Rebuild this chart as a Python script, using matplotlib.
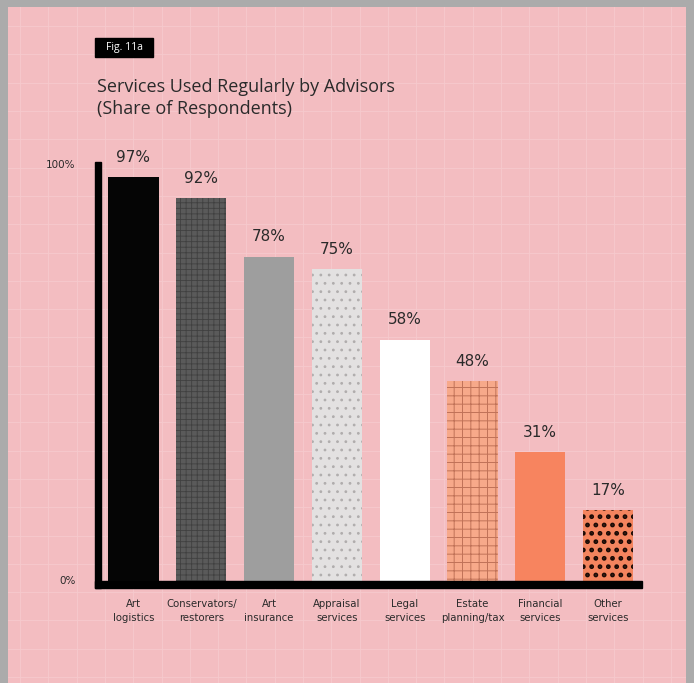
import numpy as np
import matplotlib
matplotlib.use("Agg")
from matplotlib import pyplot as plt
from matplotlib.patches import Rectangle

# data
categories = ["Art\nlogistics", "Conservators/\nrestorers", "Art\ninsurance", "Appraisal\nservices",
              "Legal\nservices", "Estate\nplanning/tax", "Financial\nservices", "Other\nservices"]
shares = [97, 92, 78, 75, 58, 48, 31, 17]
y_ticks = [0, 100]
y_tick_labels = ["0%", "100%"]

face = ["#050505", "#5a5a5a", "#9e9e9e", "#e3e1e1", "#ffffff", "#f7a98a", "#f7845f", "#f4845e"]
hatch = [None, "+++", None, "..", None, "++", None, ".."]
hcol = ["#050505", "#404040", "#9e9e9e", "#b0adad", "#ffffff", "#c07258", "#f7845f", "#1a0a05"]
hlw = [0.8, 0.6, 0.8, 0.8, 0.8, 0.7, 0.8, 2.2]

W, H = 694, 683
bg = "#f3bdc1"
fig = plt.figure(figsize=(W / 100, H / 100), dpi=100)
fig.patch.set_facecolor("#ababab")

# pink panel with faint grid
panel = fig.add_axes([8 / W, 0, (686 - 8) / W, (H - 7) / H])
panel.set_facecolor(bg)
panel.set_xlim(8, 686)
panel.set_ylim(0, H - 7)
for gx in np.arange(20, 686, 28.3):
    panel.axvline(gx, color="#f6cacd", lw=0.6, zorder=0)
for gy in np.arange(6, H - 7, 28.3):
    panel.axhline(gy, color="#f6cacd", lw=0.6, zorder=0)
panel.set_xticks([])
panel.set_yticks([])
for s in panel.spines.values():
    s.set_visible(False)

# bar axes, placed in pixels
x0, x1 = 95, 642
ybase, ytop = 581, 165
ax = fig.add_axes([x0 / W, (H - ybase) / H, (x1 - x0) / W, (ybase - ytop) / H])
ax.patch.set_alpha(0)
step = 67.8
c0 = 133.5
ax.set_xlim((x0 - c0) / step, (x1 - c0) / step)
ax.set_ylim(0, 100)

xs = np.arange(len(shares))
for i, v in enumerate(shares):
    with plt.rc_context({"hatch.linewidth": hlw[i]}):
        ax.bar(xs[i], v, width=0.74, color=face[i], edgecolor=hcol[i], linewidth=0,
               hatch=hatch[i], zorder=3)
    ax.text(xs[i], v + 3.0, "%d%%" % v, ha="center", va="bottom", fontsize=11,
            color="#2a2a2a", family="DejaVu Sans")

# thick axis lines
for s in ax.spines.values():
    s.set_visible(False)
ax.add_patch(Rectangle((-0.568, -1.6), 0.085, 102.3, color="black", clip_on=False, zorder=4))
ax.add_patch(Rectangle((-0.568, -1.6), 8.07, 1.5, color="black", clip_on=False, zorder=4))

ax.set_yticks(y_ticks)
ax.set_yticklabels(y_tick_labels, fontsize=7.5, family="DejaVu Sans", color="#2a2a2a")
ax.tick_params(axis="y", length=0, pad=14)
for lab in ax.get_yticklabels():
    lab.set_verticalalignment("center")
ax.set_xticks(xs)
ax.set_xticklabels(categories, fontsize=7.3, family="DejaVu Sans", color="#2a2a2a", linespacing=1.45)
ax.tick_params(axis="x", length=0, pad=13)

# title and figure tag
fig.text(97 / W, 1 - 87 / H, "Services Used Regularly by Advisors", fontsize=13,
         family="Open Sans", color="#2a2a2a", va="center")
fig.text(97 / W, 1 - 109 / H, "(Share of Respondents)", fontsize=13,
         family="Open Sans", color="#2a2a2a", va="center")
fig.patches.append(Rectangle((95 / W, 1 - 57 / H), 58 / W, 19 / H, transform=fig.transFigure,
                             color="black", zorder=5))
fig.text(124 / W, 1 - 47.5 / H, "Fig. 11a", fontsize=7.5, family="Open Sans", color="white",
         ha="center", va="center", zorder=6)

fig.savefig("out.png", dpi=100, facecolor=fig.get_facecolor())
